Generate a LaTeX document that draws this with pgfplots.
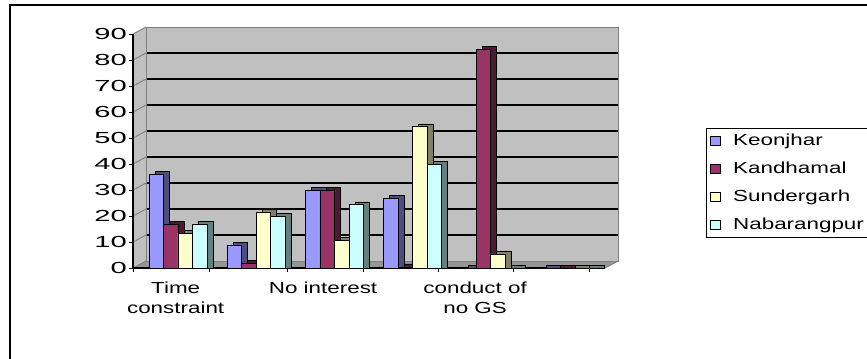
\documentclass[border=0pt]{standalone}
\usepackage{graphicx}
\usepackage{pgfplots}
\pgfplotsset{compat=1.18}
\usepackage{pgfplotstable}
\usepackage{fontspec}
\setmainfont{Liberation Sans}[FakeStretch=1.4]

\definecolor{keonF}{HTML}{9999FF}\definecolor{keonS}{HTML}{4D4D80}
\definecolor{kandF}{HTML}{993366}\definecolor{kandS}{HTML}{4D1A33}
\definecolor{sundF}{HTML}{FFFFCC}\definecolor{sundS}{HTML}{808066}
\definecolor{nabF}{HTML}{CCFFFF}\definecolor{nabS}{HTML}{668080}
\definecolor{wall}{HTML}{C0C0C0}
\definecolor{floor}{HTML}{969696}
\definecolor{edge}{HTML}{808080}

% share of respondents (%) per reason, by district
\pgfplotstableread{
x  keon  kand  sund  nab
0  36.0  16.7  13.3  16.7
1  8.8   1.7   21.6  20.0
2  29.7  29.7  10.7  24.3
3  26.7  0.4   54.3  39.8
4  0.0   84.2  5.4   0.0
5  0.0   0.0   0.0   0.0
}\reasons

\begin{document}
\begin{tikzpicture}
\useasboundingbox (0,0) rectangle (650.25pt,-268.5pt);
% chart frame
\draw[line width=1.2pt] (7.5pt,-270pt) -- (7.5pt,-3.75pt) -- (652pt,-3.75pt);
\begin{axis}[
  at={(99.75pt,-201pt)}, anchor=south west,
  scale only axis, width=363.75pt, height=175.5pt,
  xmin=-0.5754, xmax=5.6266, ymin=0, ymax=90,
  clip=false,
  axis x line*=bottom, axis y line*=left,
  axis line style={draw=none},
  tick align=outside, major tick length=3pt,
  tick style={black, line width=0.6pt},
  ytick={0,10,...,90},
  yticklabel={\scalebox{1.3}[1]{\pgfmathprintnumber[assume math mode=true]{\tick}}},
  yticklabel style={font=\fontsize{12}{13}\selectfont, inner sep=1.5pt},
  xtick={-0.5754,0.3964,1.3939,2.3657,3.3248,4.2839,5.2558},
  xticklabels={},
  extra x ticks={-0.03,1.855,3.799},
  extra x tick labels={Time\\constraint, No interest, conduct of\\no GS},
  extra x tick style={major tick length=0pt,
    xticklabel style={align=center, inner sep=0pt, anchor=north, yshift=-10pt,
      font=\fontsize{12}{15}\selectfont}},
  legend image code/.code={\draw[#1] (0pt,-3.5pt) rectangle (7.5pt,3.5pt);},
  legend style={at={(1.1814,0.5983)}, anchor=north west, draw=black,
    line width=0.6pt, fill=white, font=\fontsize{12}{14}\selectfont,
    inner sep=3pt, row sep=8pt, column sep=8pt,
    nodes={inner sep=1pt, text height=8.5pt, text depth=2.5pt}},
  legend cell align=left,
]
% floor, side wall and back wall
\fill[floor] (axis cs:-0.5754,0) -- (axis cs:5.460,0) -- (axis cs:5.627,2.69) -- (axis cs:-0.409,2.69) -- cycle;
\fill[wall] (axis cs:-0.5754,0) -- (axis cs:-0.5754,90) -- (axis cs:-0.409,92.69) -- (axis cs:-0.409,2.69) -- cycle;
\fill[wall] (axis cs:-0.409,2.69) rectangle (axis cs:5.627,92.69);
% gridlines on the back wall and the side wall
\pgfplotsinvokeforeach{12.69,22.69,32.69,42.69,52.69,62.69,72.69,82.69}{
  \draw[black, line width=0.8pt] (axis cs:-0.409,#1) -- (axis cs:5.627,#1);}
\pgfplotsinvokeforeach{0,10,20,30,40,50,60,70,80,90}{
  \draw[edge, line width=0.7pt] (axis cs:-0.5754,#1) -- ++(9.75pt,5.25pt);}
\draw[edge, line width=0.7pt] (axis cs:-0.409,2.69) -- (axis cs:-0.409,92.69) -- (axis cs:5.627,92.69) -- (axis cs:5.627,2.69) -- (axis cs:-0.409,2.69);
\draw[edge, line width=0.7pt] (axis cs:5.460,0) -- (axis cs:5.627,2.69);
% front axis lines
\draw[black, line width=0.8pt] (axis cs:-0.5754,0) -- (axis cs:5.460,0);
\draw[black, line width=0.8pt] (axis cs:-0.5754,0) -- (axis cs:-0.5754,90);

% columns: a darker block behind each front face gives the depth
\addplot[ybar, forget plot, bar width=0.185, bar shift=-0.2005, fill=keonS, draw=black, line width=0.5pt]
  table[x=x, y expr=\thisrow{keon}+1.15] {\reasons};
\addplot[ybar, forget plot, bar width=0.185, bar shift=-0.2775, fill=keonF, draw=black, line width=0.5pt]
  table[x=x, y=keon] {\reasons};
\addplot[ybar, forget plot, bar width=0.185, bar shift=-0.0155, fill=kandS, draw=black, line width=0.5pt]
  table[x=x, y expr=\thisrow{kand}+1.15] {\reasons};
\addplot[ybar, forget plot, bar width=0.185, bar shift=-0.0925, fill=kandF, draw=black, line width=0.5pt]
  table[x=x, y=kand] {\reasons};
\addplot[ybar, forget plot, bar width=0.185, bar shift=0.1695, fill=sundS, draw=black, line width=0.5pt]
  table[x=x, y expr=\thisrow{sund}+1.15] {\reasons};
\addplot[ybar, forget plot, bar width=0.185, bar shift=0.0925, fill=sundF, draw=black, line width=0.5pt]
  table[x=x, y=sund] {\reasons};
\addplot[ybar, forget plot, bar width=0.185, bar shift=0.3545, fill=nabS, draw=black, line width=0.5pt]
  table[x=x, y expr=\thisrow{nab}+1.15] {\reasons};
\addplot[ybar, forget plot, bar width=0.185, bar shift=0.2775, fill=nabF, draw=black, line width=0.5pt]
  table[x=x, y=nab] {\reasons};

\addlegendimage{fill=keonF, draw=black, line width=0.6pt}
\addlegendentry{Keonjhar}
\addlegendimage{fill=kandF, draw=black, line width=0.6pt}
\addlegendentry{Kandhamal}
\addlegendimage{fill=sundF, draw=black, line width=0.6pt}
\addlegendentry{Sundergarh}
\addlegendimage{fill=nabF, draw=black, line width=0.6pt}
\addlegendentry{Nabarangpur}
\end{axis}
\end{tikzpicture}
\end{document}
